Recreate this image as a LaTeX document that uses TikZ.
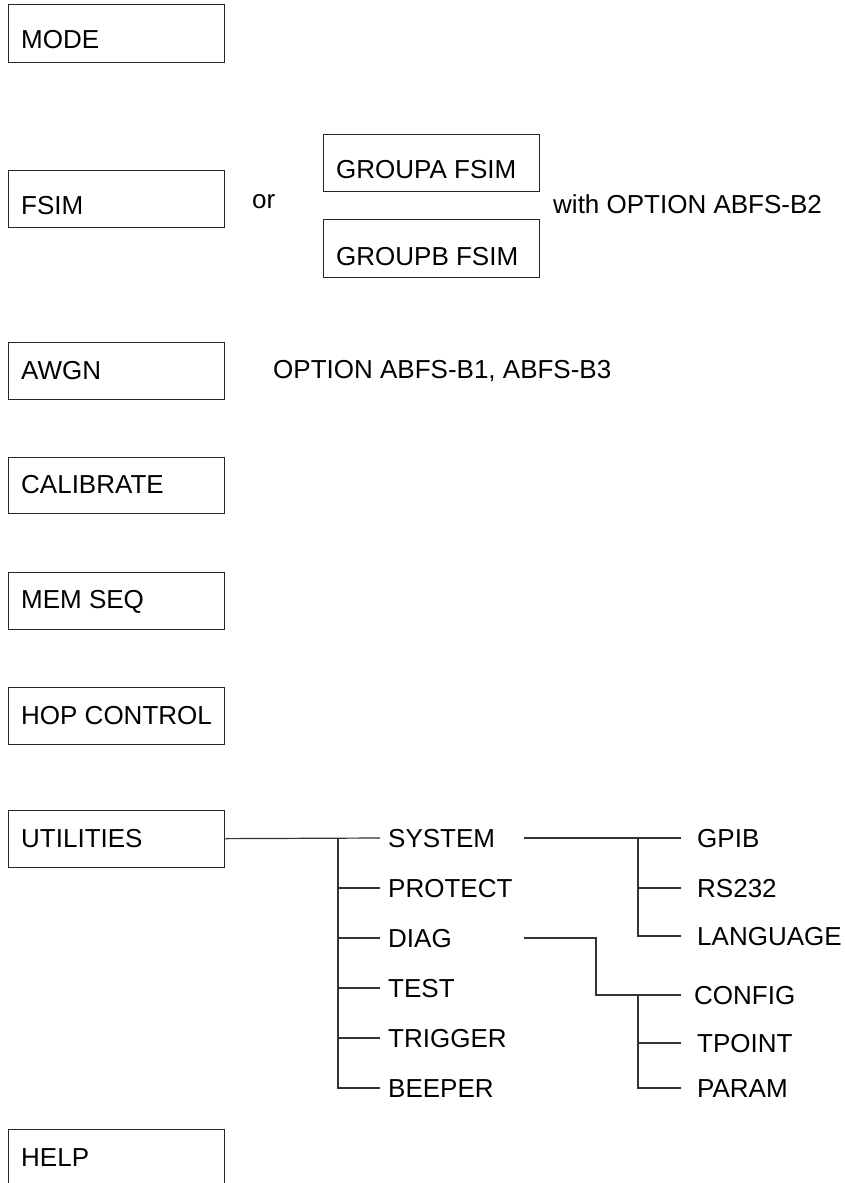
\documentclass[tikz,border=0pt]{standalone}
\usepackage{fontspec}
\setmainfont{Liberation Sans}
\begin{document}
\begin{tikzpicture}[x=1pt,y=-1pt,
  box/.style={draw=black!85, line width=1.3pt, minimum width=216pt, anchor=north west, inner sep=0pt},
  lbl/.style={anchor=base west, inner sep=0pt, font=\fontsize{26}{30}\selectfont},
  item/.style={anchor=west, inner sep=0pt, text height=18pt, text depth=0pt, font=\fontsize{26}{30}\selectfont},
  ln/.style={draw=black!80, line width=1.2pt}]
\useasboundingbox (0,0) rectangle (845,1183);
% boxes
\node[box, minimum height=58pt] (mode) at (8,4) {};
\node[box, minimum height=57pt] (fsim) at (8,170) {};
\node[box, minimum height=57pt] (ga) at (323,134) {};
\node[box, minimum height=58pt] (gb) at (323,219) {};
\node[box, minimum height=57pt] (awgn) at (8,342) {};
\node[box, minimum height=56pt] (cal) at (8,457) {};
\node[box, minimum height=57pt] (mem) at (8,572) {};
\node[box, minimum height=57pt] (hop) at (8,687) {};
\node[box, minimum height=57pt] (util) at (8,809.5) {};
\node[box, minimum height=80pt] (help) at (8,1129) {};
% box labels
\node[lbl] (tmode) at (21,48) {MODE};
\node[lbl] (tfsim) at (21,214) {FSIM};
\node[lbl] (tor) at (252,208) {or};
\node[lbl] (tga) at (336,178) {GROUPA FSIM};
\node[lbl] (tgb) at (336,265) {GROUPB FSIM};
\node[lbl] (twith) at (553,213) {with OPTION ABFS-B2};
\node[lbl] (tawgn) at (21,379) {AWGN};
\node[lbl] (topt) at (273,378) {OPTION ABFS-B1, ABFS-B3};
\node[lbl] (tcal) at (21,493) {CALIBRATE};
\node[lbl] (tmem) at (21,608) {MEM SEQ};
\node[lbl] (thop) at (21,724) {HOP CONTROL};
\node[lbl] (tutil) at (21,847) {UTILITIES};
\node[lbl] (thelp) at (21,1166) {HELP};
% tree items
\node[item] (sys) at (388,838) {SYSTEM};
\node[item] (prot) at (388,888) {PROTECT};
\node[item] (diag) at (388,938) {DIAG};
\node[item] (test) at (388,988) {TEST};
\node[item] (trig) at (388,1038) {TRIGGER};
\node[item] (beep) at (388,1088) {BEEPER};
\node[item] (gpib) at (697,838) {GPIB};
\node[item] (rs) at (697,888) {RS232};
\node[item] (lang) at (697,936) {LANGUAGE};
\node[item] (conf) at (694,995) {CONFIG};
\node[item] (tpt) at (697,1043) {TPOINT};
\node[item] (par) at (697,1088) {PARAM};
% junctions
\coordinate (v1) at (338,838);
\coordinate (s0) at (524,838);
\coordinate (v2) at (638,838);
\coordinate (d0) at (524,938);
\coordinate (d1) at (596,938);
\coordinate (v3) at (638,995);
% connectors
\draw[ln] (util.east) -- ([xshift=-8pt]sys.west);
\draw[ln] (v1) -- (v1 |- beep.west) -- ([xshift=-8pt]beep.west);
\foreach \n in {prot,diag,test,trig} \draw[ln] (v1 |- \n.west) -- ([xshift=-8pt]\n.west);
\draw[ln] (s0) -- ([xshift=-16pt]gpib.west);
\draw[ln] (v2) -- (v2 |- lang.west) -- ([xshift=-16pt]lang.west);
\draw[ln] (v2 |- rs.west) -- ([xshift=-16pt]rs.west);
\draw[ln] (d0) -- (d1) -- (d1 |- conf.west) -- ([xshift=-13pt]conf.west);
\draw[ln] (v3) -- (v3 |- par.west) -- ([xshift=-16pt]par.west);
\draw[ln] (v3 |- tpt.west) -- ([xshift=-16pt]tpt.west);
\end{tikzpicture}
\end{document}
